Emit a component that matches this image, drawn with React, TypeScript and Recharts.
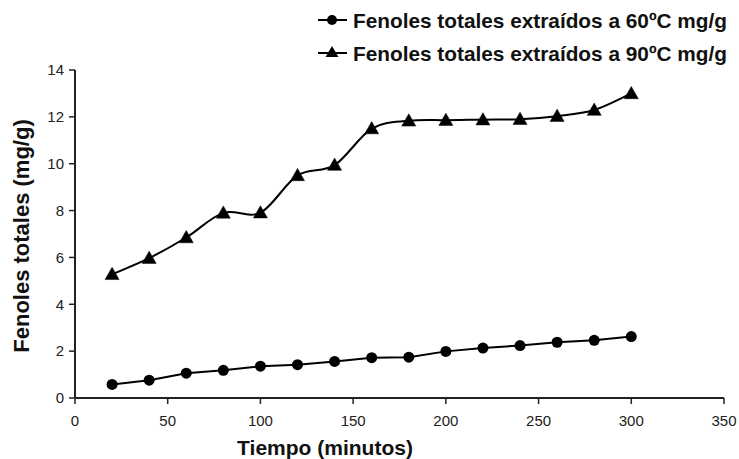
import React from 'react';
import { LineChart, Line, XAxis, YAxis, Legend } from 'recharts';

const tiempos = [20, 40, 60, 80, 100, 120, 140, 160, 180, 200, 220, 240, 260, 280, 300];
const fenoles60 = [0.58, 0.76, 1.06, 1.18, 1.36, 1.42, 1.56, 1.72, 1.74, 1.99, 2.13, 2.24, 2.38, 2.46, 2.62];
const fenoles90 = [5.28, 5.97, 6.85, 7.9, 7.91, 9.5, 9.94, 11.5, 11.83, 11.86, 11.88, 11.9, 12.03, 12.29, 13.0];
const xTicks = [0, 50, 100, 150, 200, 250, 300, 350];
const yTicks = [0, 2, 4, 6, 8, 10, 12, 14];
const name60 = 'Fenoles totales extraídos a 60ºC mg/g';
const name90 = 'Fenoles totales extraídos a 90ºC mg/g';

const data = tiempos.map((t, i) => ({ t, f60: fenoles60[i], f90: fenoles90[i] }));

const FONT = 'Arial, "Liberation Sans", Helvetica, sans-serif';

// Excel-like smoothed line (Catmull-Rom style bezier)
const smoothCurve = (context: any) => {
  let pts: number[][] = [];
  return {
    areaStart() {},
    areaEnd() {},
    lineStart() { pts = []; },
    point(x: number, y: number) { pts.push([+x, +y]); },
    lineEnd() {
      if (!pts.length) return;
      context.moveTo(pts[0][0], pts[0][1]);
      const k = 1 / 6;
      for (let i = 0; i < pts.length - 1; i++) {
        const p0 = pts[i - 1] || pts[i];
        const p1 = pts[i];
        const p2 = pts[i + 1];
        const p3 = pts[i + 2] || pts[i + 1];
        context.bezierCurveTo(
          p1[0] + (p2[0] - p0[0]) * k, p1[1] + (p2[1] - p0[1]) * k,
          p2[0] - (p3[0] - p1[0]) * k, p2[1] - (p3[1] - p1[1]) * k,
          p2[0], p2[1]
        );
      }
    },
  };
};

const Triangle = (props: any) => {
  const { cx, cy } = props;
  if (cx == null || cy == null) return null;
  const s = 7;
  return <path d={`M${cx},${cy - s} L${cx + s},${cy + s * 0.75} L${cx - s},${cy + s * 0.75} Z`} fill="#000" stroke="#000" strokeWidth={0.5} />;
};

const Circle = (props: any) => {
  const { cx, cy } = props;
  if (cx == null || cy == null) return null;
  return <circle cx={cx} cy={cy} r={5.5} fill="#000" />;
};

const LegendContent = () => (
  <svg width={420} height={70} style={{ overflow: 'visible', display: 'block' }}>
    <g>
      <line x1={0} y1={20} x2={29} y2={20} stroke="#000" strokeWidth={2} />
      <circle cx={14} cy={20} r={5} fill="#000" />
      <text x={35} y={27.5} fontFamily={FONT} fontSize={20.8} fontWeight="bold" fill="#111">{name60}</text>
    </g>
    <g>
      <line x1={0} y1={53} x2={29} y2={53} stroke="#000" strokeWidth={2} />
      <path d="M14,46 L20.5,57 L7.5,57 Z" fill="#000" />
      <text x={35} y={60.5} fontFamily={FONT} fontSize={20.8} fontWeight="bold" fill="#111">{name90}</text>
    </g>
  </svg>
);

const XTitle = () => (
  <text x={325} y={455} textAnchor="middle" fontFamily={FONT} fontSize={21} fontWeight="bold" fill="#111">
    Tiempo (minutos)
  </text>
);

const YTitle = () => (
  <text x={29} y={236} textAnchor="middle" transform="rotate(-90 29 236)" fontFamily={FONT} fontSize={22} fontWeight="bold" fill="#111">
    Fenoles totales (mg/g)
  </text>
);

export default function App() {
  return (
    <div style={{ position: 'absolute', left: 0, top: 0, width: 739, height: 459, background: '#fff' }}>
      <LineChart width={739} height={459} data={data} margin={{ top: 0, right: 15, bottom: 0, left: 0 }}>
        <XAxis
          dataKey="t"
          type="number"
          domain={[0, 350]}
          ticks={xTicks}
          height={61}
          axisLine={{ stroke: '#222', strokeWidth: 2 }}
          tickLine={{ stroke: '#222', strokeWidth: 1.5 }}
          tickSize={6}
          tick={{ fill: '#222', fontSize: 15, fontFamily: FONT }}
          tickMargin={11}
          label={{ content: XTitle } as any}
        />
        <YAxis
          type="number"
          domain={[0, 14]}
          ticks={yTicks}
          width={75}
          axisLine={{ stroke: '#222', strokeWidth: 2 }}
          tickLine={{ stroke: '#222', strokeWidth: 1.5 }}
          tickSize={6}
          tick={{ fill: '#222', fontSize: 15, fontFamily: FONT }}
          tickMargin={5}
          label={{ content: YTitle } as any}
        />
        <Legend
          verticalAlign="top"
          align="right"
          content={LegendContent}
          wrapperStyle={{ position: 'absolute', top: 0, left: 318, width: 420, height: 70 }}
        />
        <Line
          dataKey="f60"
          name={name60}
          type="linear"
          stroke="#000"
          strokeWidth={2}
          dot={<Circle />}
          activeDot={false}
          isAnimationActive={false}
        />
        <Line
          dataKey="f90"
          name={name90}
          type={smoothCurve as any}
          stroke="#000"
          strokeWidth={2}
          dot={<Triangle />}
          activeDot={false}
          isAnimationActive={false}
        />
      </LineChart>
    </div>
  );
}
